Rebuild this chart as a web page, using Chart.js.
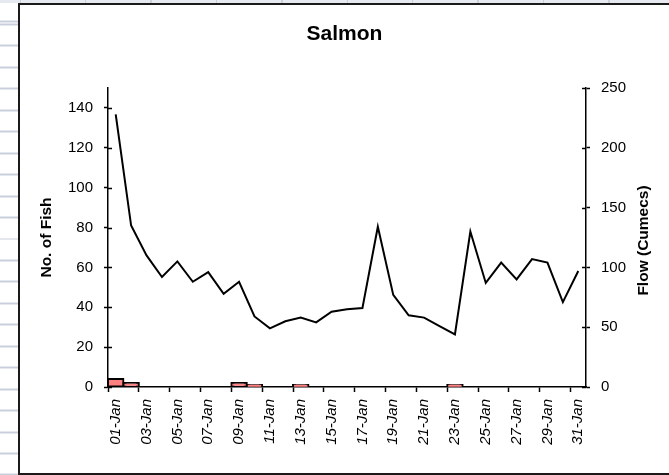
<!DOCTYPE html>
<html>
<head>
<meta charset="utf-8">
<title>Salmon</title>
<script src="https://cdn.jsdelivr.net/npm/chart.js@4/dist/chart.umd.min.js"></script>
<style>
  html, body { margin: 0; padding: 0; background: #fff; overflow: hidden; }
  body { width: 669px; height: 475px; position: relative; }
  /* spreadsheet gridlines showing round the chart object */
  .rows {
    position: absolute; left: 0; top: 0; width: 18px; height: 475px;
    background: repeating-linear-gradient(to bottom, transparent 0 1px, #c8d0dc 1px 3px, transparent 3px 21.45px);
    background-position: 0 22.5px;
  }
  .cols {
    position: absolute; left: 0; top: 0; width: 669px; height: 3px;
    background:
      repeating-linear-gradient(to right, transparent 0 19.6px, #c8d0dc 19.6px 21px, transparent 21px 65.4px),
      #e6e9ef;
  }
  .frame {
    position: absolute; left: 18px; top: 3px; width: 700px; height: 472px;
    box-sizing: border-box; border: 2px solid #1a1a1a; background: #fff;
  }
  .wrap { position: absolute; left: 20px; top: 5px; width: 649px; height: 468px; }
</style>
</head>
<body>
<div class="rows"></div>
<div class="cols"></div>
<div class="frame"></div>
<div class="wrap"><canvas id="salmon"></canvas></div>
<script>
// 標題與軸名
const CHART_TITLE = "Salmon";
const FISH_TITLE = "No. of Fish";
const FLOW_TITLE = "Flow (Cumecs)";

// 日期類別
const days = [
  "01-Jan", "02-Jan", "03-Jan", "04-Jan", "05-Jan", "06-Jan", "07-Jan", "08-Jan",
  "09-Jan", "10-Jan", "11-Jan", "12-Jan", "13-Jan", "14-Jan", "15-Jan", "16-Jan",
  "17-Jan", "18-Jan", "19-Jan", "20-Jan", "21-Jan", "22-Jan", "23-Jan", "24-Jan",
  "25-Jan", "26-Jan", "27-Jan", "28-Jan", "29-Jan", "30-Jan", "31-Jan",
];

// 魚數（左軸，柱）
const fishCount = [
  4, 2, 0, 0, 0, 0, 0, 0, 2, 1, 0, 0, 1, 0, 0, 0,
  0, 0, 0, 0, 0, 0, 1, 0, 0, 0, 0, 0, 0, 0, 0,
];

// 流量（右軸，線）
const flowCumecs = [
  228, 135, 110, 92, 105, 88, 96, 78, 88, 59, 49, 55, 58, 54, 63, 65,
  66, 134, 77, 60, 58, 51, 44, 130, 87, 104, 90, 107, 104, 71, 97,
];

// 軸範圍
const fishAxis = { min: 0, max: 150, step: 20 };
const flowAxis = { min: 0, max: 250, step: 50 };

const FONT = "'Liberation Sans', Arial, sans-serif";
const INK = "#000";

// 右軸標題由下往上讀，Chart.js 預設是反方向，所以自己畫；
// 兩條 y 軸的刻度線也要往圖內多伸一截（Excel 的 cross 刻度）
const axisExtras = {
  id: "axisExtras",
  afterDraw(chart) {
    const ctx = chart.ctx;
    const area = chart.chartArea;
    ctx.save();
    ctx.strokeStyle = INK;
    ctx.lineWidth = 1.5;
    [["y", 1], ["y1", -1]].forEach(([id, dir]) => {
      const s = chart.scales[id];
      const x0 = id === "y" ? area.left : area.right;
      s.ticks.forEach((t) => {
        const py = Math.round(s.getPixelForValue(t.value)) + 0.5;
        ctx.beginPath();
        ctx.moveTo(x0, py);
        ctx.lineTo(x0 + dir * 4, py);
        ctx.stroke();
      });
    });

    const s = chart.scales.y1;
    ctx.translate(s.right - 25, (area.top + area.bottom) / 2 + 3);
    ctx.rotate(-Math.PI / 2);
    ctx.font = "bold 15.5px " + FONT;
    ctx.fillStyle = INK;
    ctx.textAlign = "center";
    ctx.textBaseline = "middle";
    ctx.fillText(FLOW_TITLE, 0, 0);
    ctx.restore();
  },
};

new Chart(document.getElementById("salmon").getContext("2d"), {
  data: {
    labels: days,
    datasets: [
      {
        type: "line",
        label: "Flow",
        data: flowCumecs,
        yAxisID: "y1",
        borderColor: INK,
        borderWidth: 2,
        pointRadius: 0,
        tension: 0,
        order: 0,
      },
      {
        type: "bar",
        label: "Fish",
        data: fishCount,
        yAxisID: "y",
        backgroundColor: "#ff8080",
        borderColor: INK,
        borderWidth: 2,
        borderSkipped: false,
        inflateAmount: 1,
        barPercentage: 1,
        categoryPercentage: 1,
        order: 1,
      },
    ],
  },
  options: {
    responsive: true,
    maintainAspectRatio: false,
    animation: false,
    layout: { padding: 0 },
    plugins: {
      legend: { display: false },
      tooltip: { enabled: false },
      title: {
        display: true,
        text: CHART_TITLE,
        color: INK,
        font: { family: FONT, size: 21, weight: "bold", lineHeight: 1.2 },
        padding: { top: 17, bottom: 40.8 },
      },
    },
    scales: {
      x: {
        offset: true,
        grid: {
          offset: true,
          drawOnChartArea: false,
          tickLength: 5,
          tickWidth: 1.5,
          tickColor: (c) => (c.index % 2 === 0 ? INK : "rgba(0,0,0,0)"),
        },
        border: { color: INK, width: 1.5 },
        ticks: {
          autoSkip: false,
          minRotation: 90,
          maxRotation: 90,
          padding: 7,
          color: INK,
          font: { family: FONT, size: 15, style: "italic" },
          callback: (v, i) => (i % 2 === 0 ? days[i] : ""),
        },
        afterFit: (s) => { s.height = 86; },
      },
      y: {
        position: "left",
        min: fishAxis.min,
        max: fishAxis.max,
        bounds: "data",
        grid: { drawOnChartArea: false, tickLength: 4, tickWidth: 1.5, tickColor: INK },
        border: { color: INK, width: 1.5 },
        ticks: {
          stepSize: fishAxis.step,
          padding: 11,
          color: INK,
          font: { family: FONT, size: 15 },
        },
        // 150 只是軸頂，不是刻度
        afterBuildTicks: (s) => {
          s.ticks = s.ticks.filter((t) => t.value % fishAxis.step === 0);
        },
        title: {
          display: true,
          text: FISH_TITLE,
          color: INK,
          font: { family: FONT, size: 15.5, weight: "bold", lineHeight: 1.2 },
          padding: { top: 17, bottom: 0 },
        },
        afterFit: (s) => { s.width = 88; },
      },
      y1: {
        position: "right",
        min: flowAxis.min,
        max: flowAxis.max,
        bounds: "data",
        grid: { drawOnChartArea: false, tickLength: 4, tickWidth: 1.5, tickColor: INK },
        border: { color: INK, width: 1.5 },
        ticks: {
          stepSize: flowAxis.step,
          padding: 11,
          color: INK,
          font: { family: FONT, size: 15 },
        },
        afterFit: (s) => { s.width = 83; },
      },
    },
  },
  plugins: [axisExtras],
});
</script>
</body>
</html>
